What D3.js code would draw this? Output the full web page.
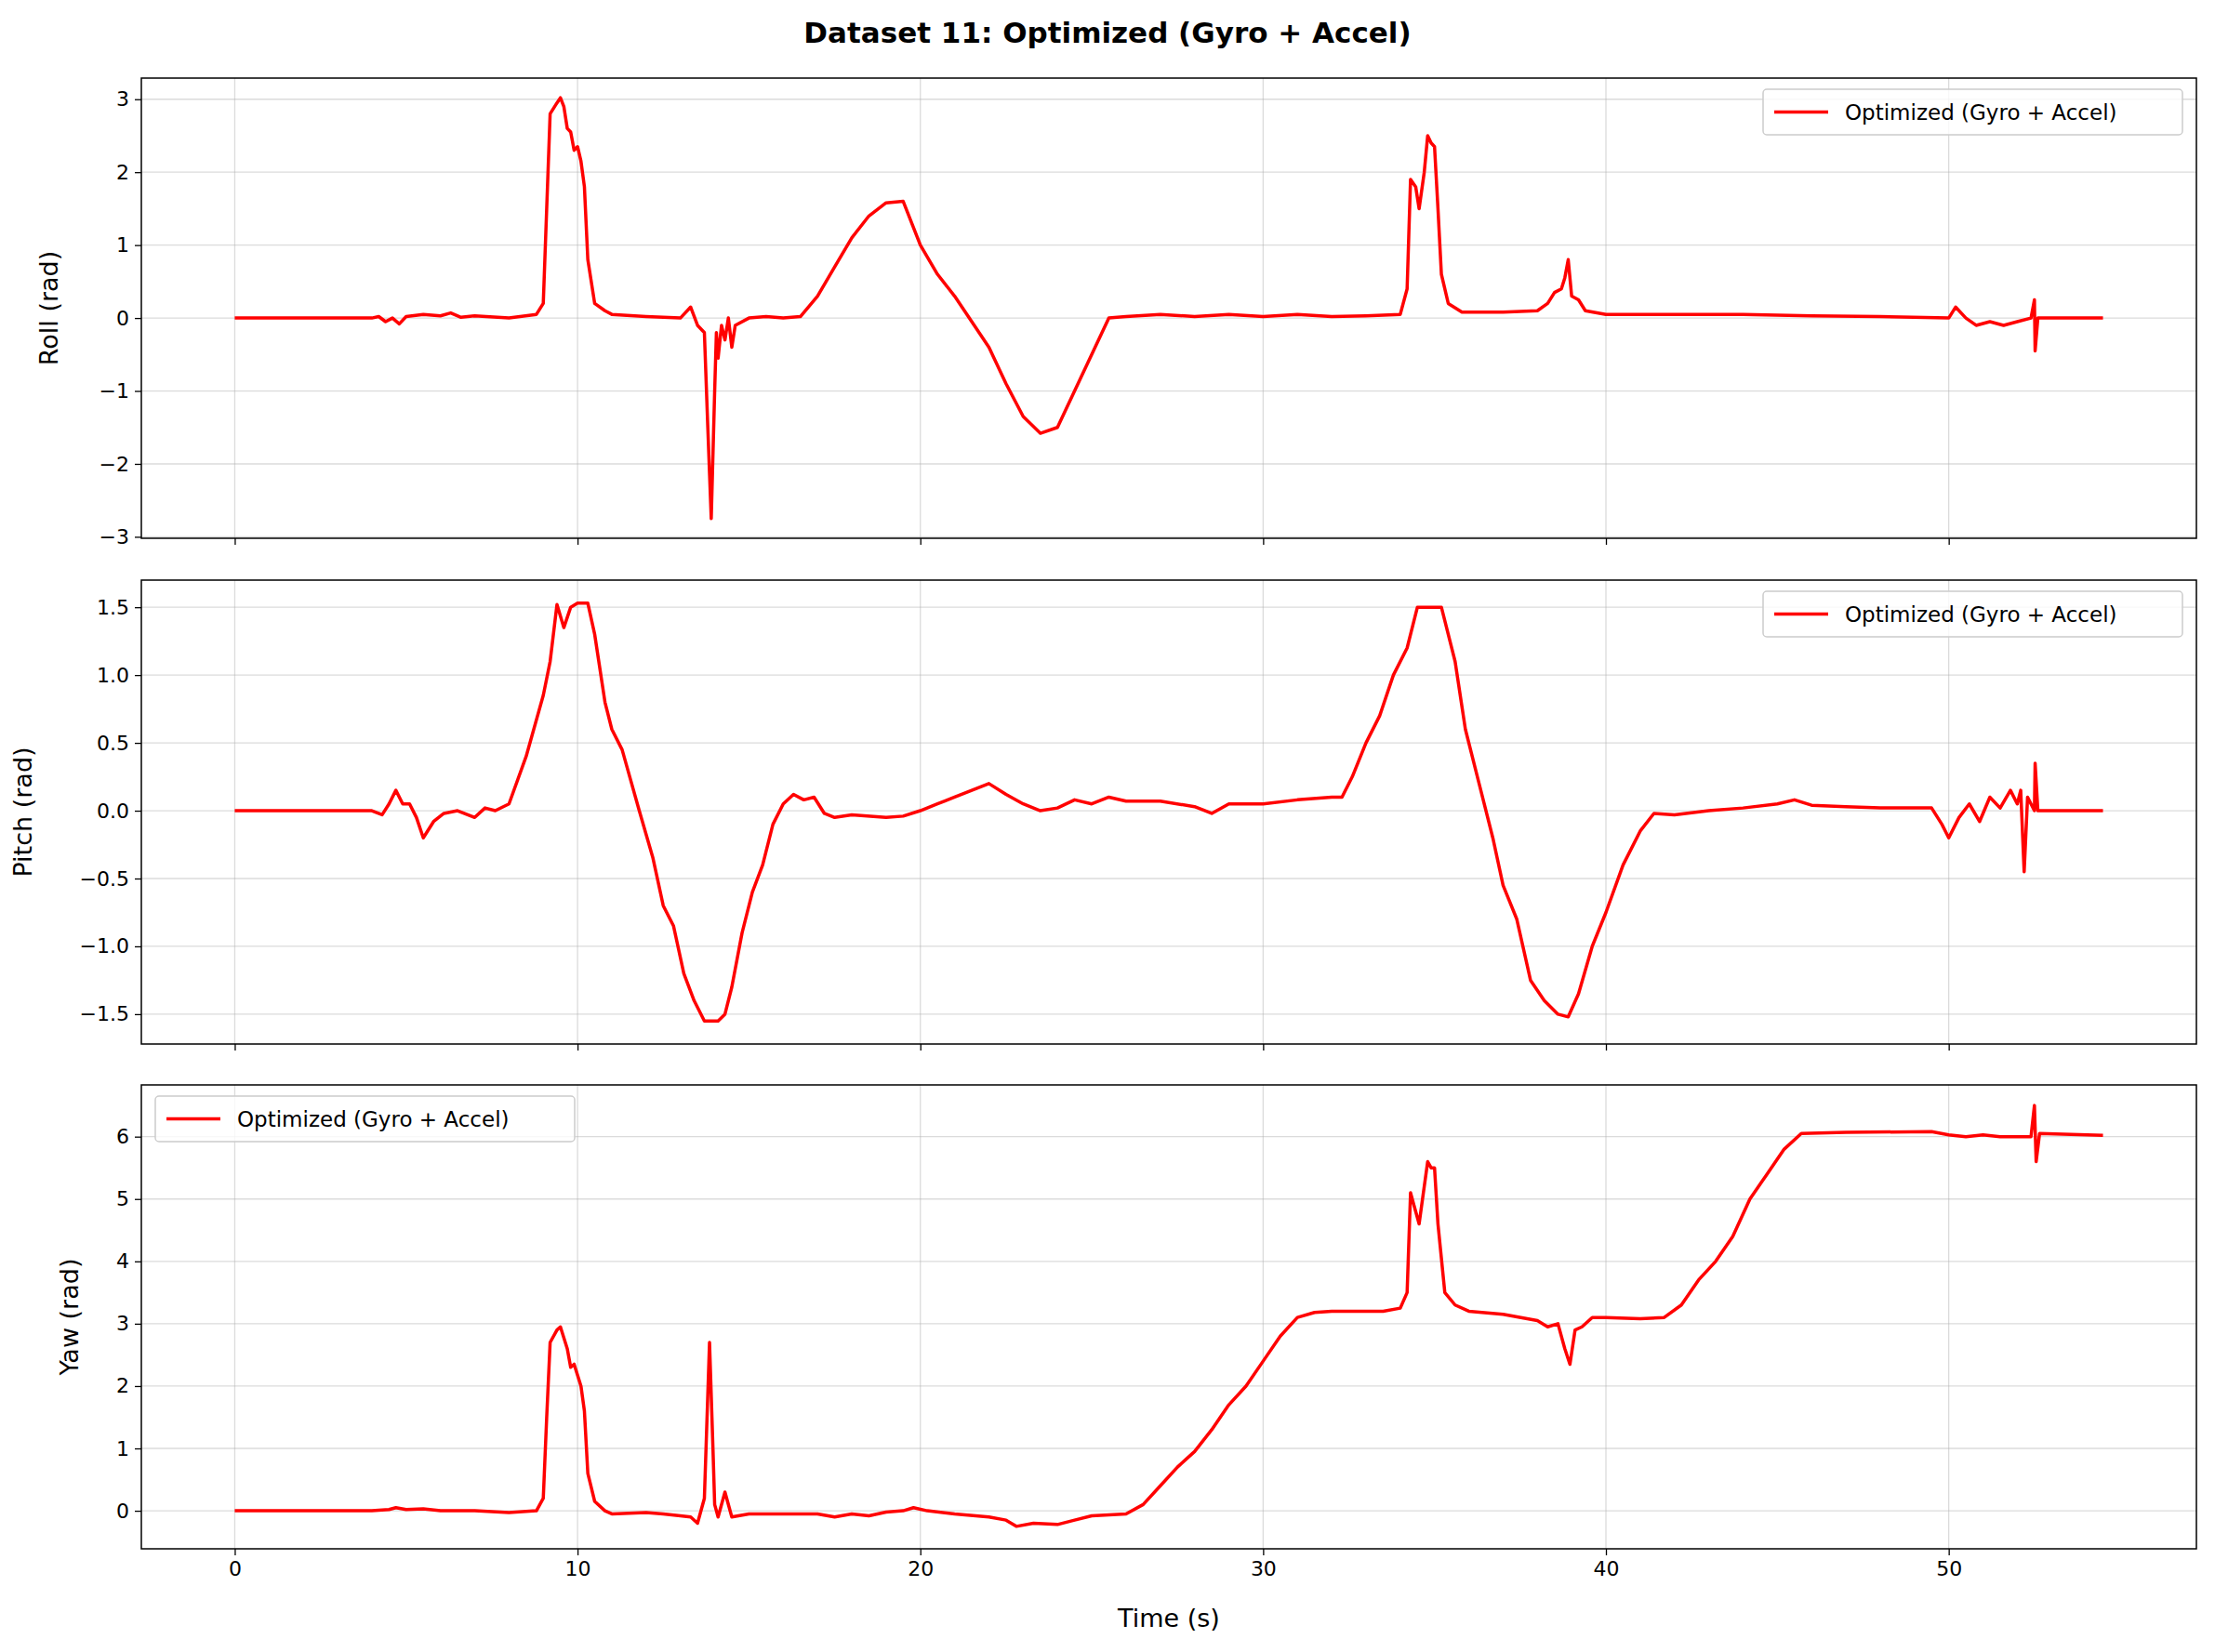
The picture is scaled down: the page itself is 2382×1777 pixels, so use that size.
<!DOCTYPE html>
<html><head><meta charset="utf-8">
<script src="https://cdn.jsdelivr.net/npm/d3@7"></script>
<style>body{margin:0;background:#fff}text{font-family:"DejaVu Sans",sans-serif}</style>
</head><body>
<svg id="c" width="2382" height="1777"></svg>
<script>
const rollData=[[0,0],[4,0],[4.2,0.02],[4.4,-0.05],[4.6,0.0],[4.8,-0.08],[5,0.02],[5.5,0.05],[6,0.03],[6.3,0.07],[6.6,0.01],[7,0.03],[8,0.0],[8.8,0.05],[9.0,0.2],[9.1,1.5],[9.2,2.8],[9.4,2.95],[9.5,3.02],[9.6,2.9],[9.7,2.6],[9.8,2.55],[9.9,2.3],[10.0,2.35],[10.1,2.15],[10.2,1.8],[10.3,0.8],[10.5,0.2],[10.8,0.1],[11,0.05],[12,0.02],[13,0.0],[13.3,0.15],[13.5,-0.1],[13.7,-0.2],[13.8,-1.5],[13.9,-2.75],[14.0,-1.0],[14.05,-0.2],[14.1,-0.55],[14.2,-0.1],[14.3,-0.3],[14.4,0.0],[14.5,-0.4],[14.6,-0.1],[15,0.0],[15.5,0.02],[16,0.0],[16.5,0.02],[17,0.3],[17.5,0.7],[18,1.1],[18.5,1.4],[19,1.58],[19.5,1.6],[20,1.0],[20.5,0.6],[21,0.3],[21.5,-0.05],[22,-0.4],[22.5,-0.9],[23,-1.35],[23.5,-1.58],[24,-1.5],[24.5,-1.0],[25,-0.5],[25.5,0.0],[26,0.02],[27,0.05],[28,0.02],[29,0.05],[30,0.02],[31,0.05],[32,0.02],[33,0.03],[34,0.05],[34.2,0.4],[34.3,1.9],[34.45,1.8],[34.55,1.5],[34.7,2.0],[34.8,2.5],[34.9,2.4],[35.0,2.35],[35.1,1.5],[35.2,0.6],[35.4,0.2],[35.8,0.08],[37,0.08],[38,0.1],[38.3,0.2],[38.5,0.35],[38.7,0.4],[38.8,0.55],[38.9,0.8],[39.0,0.3],[39.2,0.25],[39.4,0.1],[40,0.05],[42,0.05],[44,0.05],[46,0.03],[48,0.02],[50,0.0],[50.2,0.15],[50.5,0.0],[50.8,-0.1],[51.2,-0.05],[51.6,-0.1],[52.0,-0.05],[52.4,0.0],[52.5,0.25],[52.52,-0.45],[52.6,0.0],[54.5,0.0]];
const pitchData=[[0,0],[4,0],[4.3,-0.03],[4.5,0.05],[4.7,0.15],[4.9,0.05],[5.1,0.05],[5.3,-0.05],[5.5,-0.2],[5.8,-0.08],[6.1,-0.02],[6.5,0.0],[7,-0.05],[7.3,0.02],[7.6,0.0],[8,0.05],[8.5,0.4],[9,0.85],[9.2,1.1],[9.4,1.52],[9.6,1.35],[9.8,1.5],[10,1.53],[10.3,1.53],[10.5,1.3],[10.8,0.8],[11,0.6],[11.3,0.45],[11.8,0.0],[12.2,-0.35],[12.5,-0.7],[12.8,-0.85],[13.1,-1.2],[13.4,-1.4],[13.7,-1.55],[14.1,-1.55],[14.3,-1.5],[14.5,-1.3],[14.8,-0.9],[15.1,-0.6],[15.4,-0.4],[15.7,-0.1],[16,0.05],[16.3,0.12],[16.6,0.08],[16.9,0.1],[17.2,-0.02],[17.5,-0.05],[18,-0.03],[19,-0.05],[19.5,-0.04],[20,0.0],[20.5,0.05],[21,0.1],[21.5,0.15],[22,0.2],[22.5,0.12],[23,0.05],[23.5,0.0],[24,0.02],[24.5,0.08],[25,0.05],[25.5,0.1],[26,0.07],[27,0.07],[28,0.03],[28.5,-0.02],[29,0.05],[30,0.05],[31,0.08],[32,0.1],[32.3,0.1],[32.6,0.25],[33,0.5],[33.4,0.7],[33.8,1.0],[34.2,1.2],[34.5,1.5],[35.2,1.5],[35.6,1.1],[35.9,0.6],[36.3,0.2],[36.7,-0.2],[37.0,-0.55],[37.4,-0.8],[37.8,-1.25],[38.2,-1.4],[38.6,-1.5],[38.9,-1.52],[39.2,-1.35],[39.6,-1.0],[40,-0.75],[40.5,-0.4],[41,-0.15],[41.4,-0.02],[42,-0.03],[43,0.0],[44,0.02],[45,0.05],[45.5,0.08],[46,0.04],[47,0.03],[48,0.02],[49.5,0.02],[49.8,-0.1],[50.0,-0.2],[50.3,-0.05],[50.6,0.05],[50.9,-0.08],[51.2,0.1],[51.5,0.02],[51.8,0.15],[52.0,0.05],[52.1,0.15],[52.2,-0.45],[52.3,0.1],[52.5,0.0],[52.52,0.35],[52.6,0.0],[54.5,0.0]];
const yawData=[[0,0],[4,0],[4.5,0.02],[4.7,0.05],[5,0.02],[5.5,0.03],[6,0.0],[7,0.0],[8,-0.03],[8.8,0.0],[9.0,0.2],[9.1,1.5],[9.2,2.7],[9.4,2.9],[9.5,2.95],[9.7,2.6],[9.8,2.3],[9.9,2.35],[10.1,2.0],[10.2,1.6],[10.3,0.6],[10.5,0.15],[10.8,0.0],[11,-0.05],[12,-0.03],[12.5,-0.05],[13,-0.08],[13.3,-0.1],[13.5,-0.2],[13.7,0.2],[13.85,2.7],[13.95,1.0],[14.0,0.1],[14.1,-0.1],[14.3,0.3],[14.5,-0.1],[15,-0.05],[16,-0.05],[17,-0.05],[17.5,-0.1],[18,-0.05],[18.5,-0.08],[19,-0.02],[19.5,0.0],[19.8,0.05],[20.2,0.0],[21,-0.05],[22,-0.1],[22.5,-0.15],[22.8,-0.25],[23.3,-0.2],[24,-0.22],[24.5,-0.15],[25,-0.08],[26,-0.05],[26.5,0.1],[27,0.4],[27.5,0.7],[28,0.95],[28.5,1.3],[29,1.7],[29.5,2.0],[30,2.4],[30.5,2.8],[31,3.1],[31.5,3.18],[32,3.2],[33,3.2],[33.5,3.2],[34,3.25],[34.2,3.5],[34.3,5.1],[34.4,4.9],[34.55,4.6],[34.7,5.2],[34.8,5.6],[34.9,5.5],[35,5.5],[35.1,4.6],[35.3,3.5],[35.6,3.3],[36,3.2],[37,3.15],[38,3.05],[38.3,2.95],[38.6,3.0],[38.8,2.6],[38.95,2.35],[39.1,2.9],[39.3,2.95],[39.6,3.1],[40,3.1],[41,3.08],[41.7,3.1],[42.2,3.3],[42.7,3.7],[43.2,4.0],[43.7,4.4],[44.2,5.0],[44.7,5.4],[45.2,5.8],[45.7,6.05],[47,6.07],[49.5,6.08],[50,6.03],[50.5,6.0],[51,6.03],[51.5,6.0],[52.4,6.0],[52.5,6.5],[52.55,5.6],[52.65,6.05],[54.5,6.02]];
const xTicks=[0,10,20,30,40,50];
const rollTicks=[-3,-2,-1,0,1,2,3];
const pitchTicks=[-1.5,-1.0,-0.5,0.0,0.5,1.0,1.5];
const yawTicks=[0,1,2,3,4,5,6];
const seriesName="Optimized (Gyro + Accel)";

const svg=d3.select("#c");
const L=152,R=2362;
const x=d3.scaleLinear().domain([-2.725,57.225]).range([L,R]);
const minus=s=>s.replace("-","\u2212");
const panels=[
 {data:rollData,top:84,bot:579,dom:[-3.02,3.29],ticks:rollTicks,fmt:d3.format("d"),label:"Roll (rad)",lx:62,leg:"right"},
 {data:pitchData,top:624,bot:1123,dom:[-1.72,1.70],ticks:pitchTicks,fmt:d3.format(".1f"),label:"Pitch (rad)",lx:34,leg:"right"},
 {data:yawData,top:1167,bot:1666,dom:[-0.61,6.83],ticks:yawTicks,fmt:d3.format("d"),label:"Yaw (rad)",lx:84,leg:"left"}
];
svg.append("text").attr("x",1191).attr("y",46).attr("text-anchor","middle").attr("font-size",31).attr("font-weight","bold").text("Dataset 11: Optimized (Gyro + Accel)");
panels.forEach((p,i)=>{
 const y=d3.scaleLinear().domain(p.dom).range([p.bot,p.top]);
 const g=svg.append("g");
 g.selectAll(".gx").data(xTicks).join("line").attr("x1",d=>x(d)).attr("x2",d=>x(d)).attr("y1",p.top).attr("y2",p.bot).attr("stroke","#b0b0b0").attr("stroke-opacity",0.45).attr("stroke-width",1.3);
 g.selectAll(".gy").data(p.ticks).join("line").attr("x1",L).attr("x2",R).attr("y1",d=>y(d)).attr("y2",d=>y(d)).attr("stroke","#b0b0b0").attr("stroke-opacity",0.45).attr("stroke-width",1.3);
 const clip="clip"+i;
 svg.append("clipPath").attr("id",clip).append("rect").attr("x",L).attr("y",p.top).attr("width",R-L).attr("height",p.bot-p.top);
 g.append("path").datum(p.data).attr("clip-path",`url(#${clip})`).attr("fill","none").attr("stroke","#ff0000").attr("stroke-width",3.5).attr("stroke-linejoin","round")
  .attr("d",d3.line().x(d=>x(d[0])).y(d=>y(d[1])));
 const ax=g.append("g").attr("transform",`translate(0,${p.bot})`).call(d3.axisBottom(x).tickValues(xTicks).tickSize(7).tickPadding(6).tickFormat(i==2?d3.format("d"):""));
 const ay=g.append("g").attr("transform",`translate(${L},0)`).call(d3.axisLeft(y).tickValues(p.ticks).tickSize(7).tickPadding(6).tickFormat(d=>minus(p.fmt(d))));
 [ax,ay].forEach(a=>{a.select(".domain").remove();a.selectAll("text").attr("font-size",22).attr("font-family","DejaVu Sans").attr("fill","#000");a.selectAll("line").attr("stroke","#000").attr("stroke-width",1.3);});
 g.append("rect").attr("x",L).attr("y",p.top).attr("width",R-L).attr("height",p.bot-p.top).attr("fill","none").attr("stroke","#000").attr("stroke-width",1.5);
 g.append("text").attr("transform",`translate(${p.lx},${(p.top+p.bot)/2}) rotate(-90)`).attr("text-anchor","middle").attr("font-size",27).text(p.label);
 const lw=451,lh=49,lx=p.leg=="right"?R-15-lw:L+15,ly=p.top+12;
 g.append("rect").attr("x",lx).attr("y",ly).attr("width",lw).attr("height",lh).attr("rx",4).attr("fill","#fff").attr("fill-opacity",0.8).attr("stroke","#ccc").attr("stroke-width",1.5);
 g.append("line").attr("x1",lx+12).attr("x2",lx+70).attr("y1",ly+lh/2).attr("y2",ly+lh/2).attr("stroke","#ff0000").attr("stroke-width",3.5);
 g.append("text").attr("x",lx+88).attr("y",ly+lh/2+8).attr("font-size",23).text(seriesName);
});
svg.append("text").attr("x",(L+R)/2).attr("y",1750).attr("text-anchor","middle").attr("font-size",27).text("Time (s)");
</script></body></html>
